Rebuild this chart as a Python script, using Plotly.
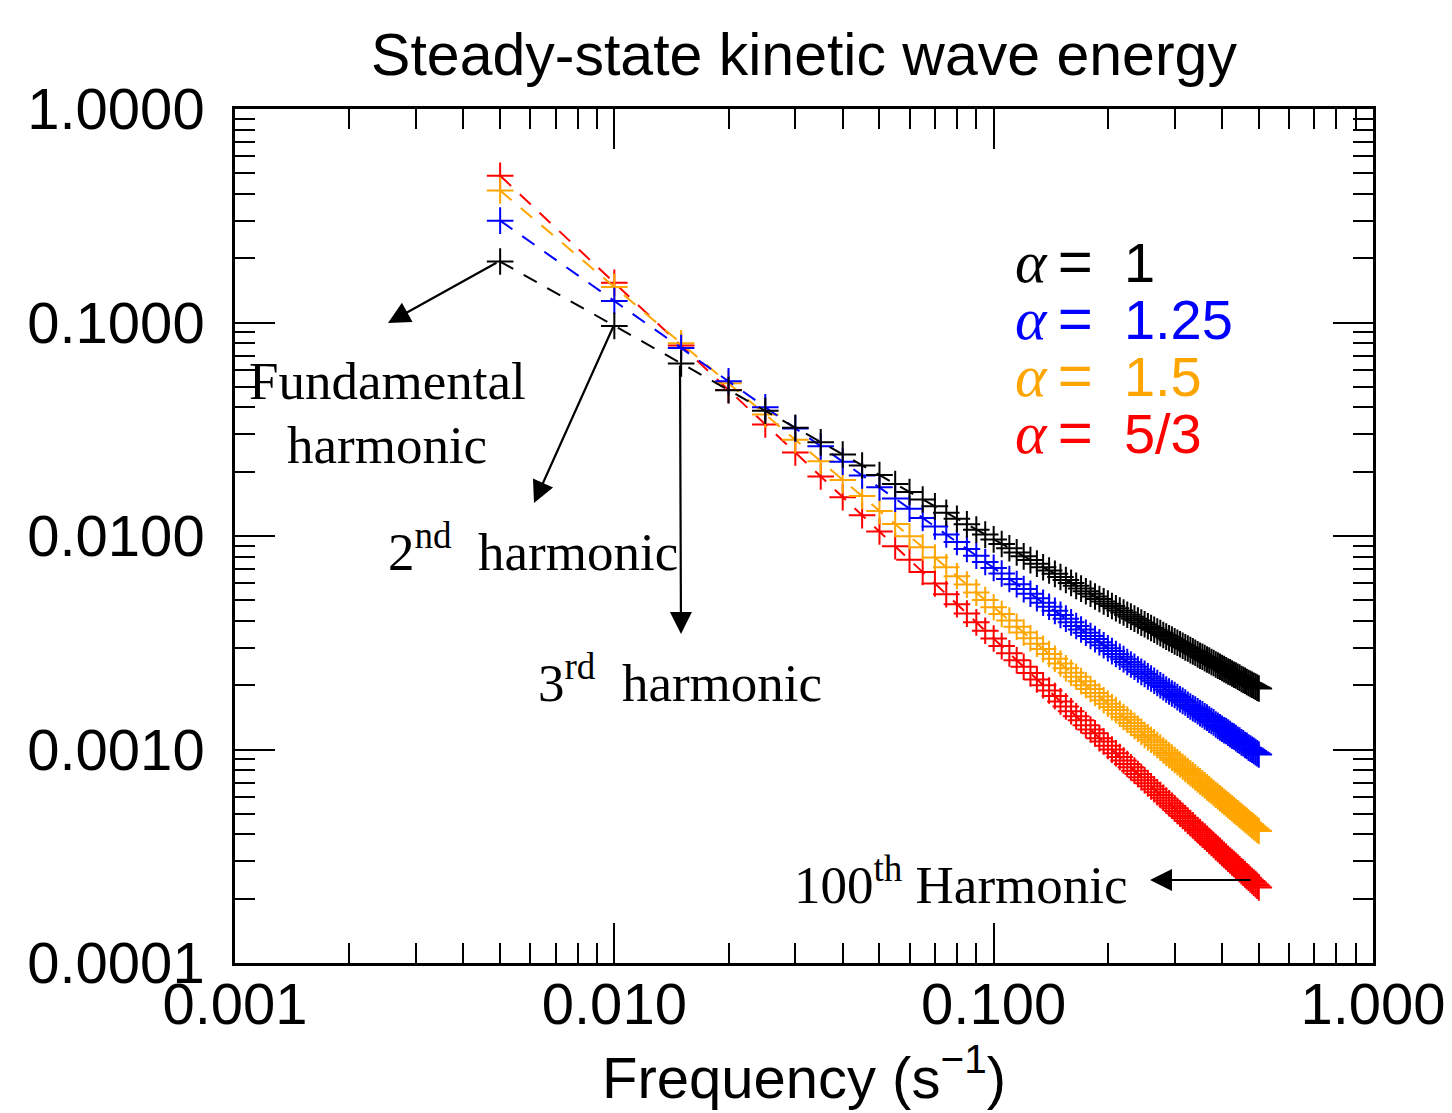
import plotly.graph_objects as go

# ---------------- data ----------------
frequency = [
    0.005, 0.010, 0.015, 0.020, 0.025, 0.030, 0.035, 0.040, 0.045, 0.050,
    0.055, 0.060, 0.065, 0.070, 0.075, 0.080, 0.085, 0.090, 0.095, 0.100,
    0.105, 0.110, 0.115, 0.120, 0.125, 0.130, 0.135, 0.140, 0.145, 0.150,
    0.155, 0.160, 0.165, 0.170, 0.175, 0.180, 0.185, 0.190, 0.195, 0.200,
    0.205, 0.210, 0.215, 0.220, 0.225, 0.230, 0.235, 0.240, 0.245, 0.250,
    0.255, 0.260, 0.265, 0.270, 0.275, 0.280, 0.285, 0.290, 0.295, 0.300,
    0.305, 0.310, 0.315, 0.320, 0.325, 0.330, 0.335, 0.340, 0.345, 0.350,
    0.355, 0.360, 0.365, 0.370, 0.375, 0.380, 0.385, 0.390, 0.395, 0.400,
    0.405, 0.410, 0.415, 0.420, 0.425, 0.430, 0.435, 0.440, 0.445, 0.450,
    0.455, 0.460, 0.465, 0.470, 0.475, 0.480, 0.485, 0.490, 0.495, 0.500,
]

energy_alpha_1 = [
    0.193, 0.0964, 0.0643, 0.0482, 0.0386, 0.0321, 0.0275, 0.0241, 0.0214, 0.0193,
    0.01753, 0.01607, 0.01483, 0.01377, 0.01285, 0.01205, 0.01134, 0.01071, 0.01015, 0.00964,
    0.00918, 0.00876, 0.00838, 0.00803, 0.00771, 0.00742, 0.00714, 0.00689, 0.00665, 0.00643,
    0.00622, 0.00603, 0.00584, 0.00567, 0.00551, 0.00536, 0.00521, 0.00507, 0.00494, 0.00482,
    0.00470, 0.00459, 0.00448, 0.00438, 0.00428, 0.00419, 0.00410, 0.00402, 0.00393, 0.00386,
    0.00378, 0.00371, 0.00364, 0.00357, 0.00351, 0.00344, 0.00338, 0.00332, 0.00327, 0.00321,
    0.00316, 0.00311, 0.00306, 0.00301, 0.00297, 0.00292, 0.00288, 0.00284, 0.00279, 0.00275,
    0.00272, 0.00268, 0.00264, 0.00261, 0.00257, 0.00254, 0.00250, 0.00247, 0.00244, 0.00241,
    0.00238, 0.00235, 0.00232, 0.00230, 0.00227, 0.00224, 0.00222, 0.00219, 0.00217, 0.00214,
    0.00212, 0.00210, 0.00207, 0.00205, 0.00203, 0.00201, 0.00199, 0.00197, 0.00195, 0.00193,
]

energy_alpha_1_25 = [
    0.300, 0.1261, 0.0759, 0.0530, 0.0401, 0.0319, 0.0263, 0.0223, 0.0192, 0.0169,
    0.01497, 0.01342, 0.01215, 0.01107, 0.01016, 0.00937, 0.00869, 0.00809, 0.00756, 0.00709,
    0.00667, 0.00629, 0.00595, 0.00564, 0.00536, 0.00511, 0.00487, 0.00466, 0.00446, 0.00427,
    0.00410, 0.00394, 0.00379, 0.00365, 0.00352, 0.00340, 0.00329, 0.00318, 0.00308, 0.00298,
    0.00289, 0.00280, 0.00272, 0.00265, 0.00257, 0.00250, 0.00244, 0.00237, 0.00231, 0.00226,
    0.00220, 0.00215, 0.00210, 0.00205, 0.00200, 0.00196, 0.00191, 0.00187, 0.00183, 0.00180,
    0.00176, 0.00172, 0.00169, 0.00166, 0.00162, 0.00159, 0.00156, 0.00154, 0.00151, 0.00148,
    0.00146, 0.00143, 0.00141, 0.00138, 0.00136, 0.00134, 0.00131, 0.00129, 0.00127, 0.00125,
    0.00123, 0.00122, 0.00120, 0.00118, 0.00116, 0.00115, 0.00113, 0.00111, 0.00110, 0.00108,
    0.00107, 0.00105, 0.00104, 0.00102, 0.00101, 0.000998, 0.000985, 0.000972, 0.000960, 0.000948,
]

energy_alpha_1_5 = [
    0.415, 0.1467, 0.0799, 0.0519, 0.0371, 0.0282, 0.0224, 0.0183, 0.0154, 0.0131,
    0.01138, 0.00998, 0.00885, 0.00792, 0.00714, 0.00648, 0.00592, 0.00543, 0.00501, 0.00464,
    0.00431, 0.00402, 0.00376, 0.00353, 0.00332, 0.00313, 0.00296, 0.00280, 0.00266, 0.00253,
    0.00240, 0.00229, 0.00219, 0.00209, 0.00200, 0.00192, 0.00184, 0.00177, 0.00170, 0.00164,
    0.00158, 0.00153, 0.00147, 0.00142, 0.00138, 0.00133, 0.00129, 0.00125, 0.00121, 0.00117,
    0.00114, 0.00111, 0.00108, 0.00105, 0.00102, 0.000990, 0.000964, 0.000940, 0.000916, 0.000893,
    0.000871, 0.000850, 0.000830, 0.000811, 0.000792, 0.000774, 0.000757, 0.000740, 0.000724, 0.000709,
    0.000694, 0.000679, 0.000665, 0.000652, 0.000639, 0.000626, 0.000614, 0.000602, 0.000591, 0.000580,
    0.000569, 0.000559, 0.000549, 0.000539, 0.000530, 0.000520, 0.000511, 0.000503, 0.000494, 0.000486,
    0.000478, 0.000470, 0.000463, 0.000455, 0.000448, 0.000441, 0.000434, 0.000428, 0.000421, 0.000415,
]

energy_alpha_5_3 = [
    0.487, 0.1534, 0.0780, 0.0483, 0.0333, 0.0246, 0.0190, 0.0152, 0.0125, 0.0105,
    0.00895, 0.00774, 0.00678, 0.00599, 0.00534, 0.00479, 0.00433, 0.00394, 0.00360, 0.00331,
    0.00305, 0.00282, 0.00262, 0.00244, 0.00228, 0.00213, 0.00200, 0.00189, 0.00178, 0.00168,
    0.00159, 0.00151, 0.00143, 0.00137, 0.00130, 0.00124, 0.00119, 0.00113, 0.00109, 0.00104,
    0.000999, 0.000960, 0.000923, 0.000888, 0.000855, 0.000825, 0.000796, 0.000768, 0.000742, 0.000718,
    0.000694, 0.000672, 0.000651, 0.000631, 0.000612, 0.000594, 0.000577, 0.000560, 0.000545, 0.000530,
    0.000515, 0.000501, 0.000488, 0.000476, 0.000463, 0.000452, 0.000441, 0.000430, 0.000420, 0.000410,
    0.000400, 0.000391, 0.000382, 0.000373, 0.000365, 0.000357, 0.000349, 0.000342, 0.000335, 0.000328,
    0.000321, 0.000315, 0.000308, 0.000302, 0.000296, 0.000291, 0.000285, 0.000280, 0.000275, 0.000269,
    0.000265, 0.000260, 0.000255, 0.000251, 0.000246, 0.000242, 0.000238, 0.000234, 0.000230, 0.000226,
]

series_labels = ["1", "1.25", "1.5", "5/3"]
series_colors = ["#000000", "#0000FF", "#FFA500", "#FF0000"]
series_values = [energy_alpha_1, energy_alpha_1_25, energy_alpha_1_5, energy_alpha_5_3]

x_tickvals = [0.001, 0.01, 0.1, 1.0]
x_ticktext = ["0.001", "0.010", "0.100", "1.000"]
y_tickvals = [0.0001, 0.001, 0.01, 0.1, 1.0]
y_ticktext = ["0.0001", "0.0010", "0.0100", "0.1000", "1.0000"]

# ---------------- figure ----------------
OFF = 8                       # page body margin of the html page
W, H = 1452 - OFF, 1113 - OFF
ML, MT = 234 - OFF + 1, 108 - OFF + 1
PW, PH = 1138, 854
MR, MB = W - ML - PW, H - MT - PH


def px(xr):
    """reference-picture x pixel -> paper fraction"""
    return (xr - OFF - ML) / PW


def py(yr):
    """reference-picture y pixel -> paper fraction"""
    return (MT + PH - (yr - OFF)) / PH


SANS = "Liberation Sans, Arial, Helvetica, sans-serif"
SERIF = "Liberation Serif, Times New Roman, serif"

fig = go.Figure()
order = [3, 2, 1, 0]
for i in order:
    fig.add_trace(go.Scatter(
        x=frequency, y=series_values[i], mode="lines+markers",
        name="α = " + series_labels[i],
        line=dict(color=series_colors[i], width=2, dash="15px,12px"),
        marker=dict(symbol="cross-thin", size=19,
                    line=dict(color=series_colors[i], width=2)),
        showlegend=False,
    ))

axis_common = dict(
    type="log", tickmode="array", ticks="inside", ticklen=40, tickwidth=2,
    tickcolor="black", showline=True, linewidth=2.5, linecolor="black",
    mirror="ticks", showgrid=False, zeroline=False,
    tickfont=dict(family=SANS, size=58, color="black"),
    minor=dict(ticks="inside", ticklen=20, tickwidth=2, tickcolor="black",
               dtick="D1", showgrid=False),
)

fig.update_xaxes(range=[-3, 0], tickvals=x_tickvals, ticktext=x_ticktext,
                 ticklabelstandoff=-11,
                 title=dict(text="Frequency (s<sup>−1</sup>)",
                            font=dict(family=SANS, size=58, color="black"),
                            standoff=22),
                 **axis_common)
fig.update_yaxes(range=[-4, 0], tickvals=y_tickvals, ticktext=y_ticktext,
                 ticklabelstandoff=16, **axis_common)

annotations = []
# legend-like coloured labels
legend_rows = [262, 318, 375, 432]
for lbl, col, yr in zip(series_labels, series_colors, legend_rows):
    annotations.append(dict(
        xref="paper", yref="paper", x=px(1013), y=py(yr), xanchor="left",
        yanchor="middle", showarrow=False,
        text=('<span style="font-family:Liberation Serif;font-size:60px">'
              '<i>α</i></span>\u2009<span style="font-size:60px">=</span>'
              '\u00a0\u00a0' + lbl),
        font=dict(family=SANS, size=56, color=col)))

# text labels
texts = [
    ("Fundamental", 387, 381),
    ("harmonic", 387, 445),
    ("2<sup>nd</sup>  harmonic", 533, 548),
    ("3<sup>rd</sup>  harmonic", 680, 679),
    ("100<sup>th</sup> Harmonic", 961, 881),
]
for t, xr, yr in texts:
    annotations.append(dict(
        xref="paper", yref="paper", x=px(xr), y=py(yr), xanchor="center",
        yanchor="middle", showarrow=False, text=t,
        font=dict(family=SERIF, size=53, color="black")))

# arrows (head near the label, tail at the data point)
arrows = [
    (388, 323, 110, -61),
    (534, 503, 80, -178),
    (681, 634, -1, -270),
    (1150, 880, 102, 0),
]
for hx, hy, ax, ay in arrows:
    annotations.append(dict(
        xref="paper", yref="paper", x=px(hx), y=py(hy), ax=ax, ay=ay,
        axref="pixel", ayref="pixel", text="", showarrow=True,
        arrowhead=2, arrowsize=2.0, arrowwidth=2.2, arrowcolor="black",
        standoff=0, startstandoff=0, font=dict(size=1)))

fig.update_layout(
    width=W, height=H,
    margin=dict(l=ML, r=MR, t=MT, b=MB, autoexpand=False),
    paper_bgcolor="white", plot_bgcolor="white",
    title=dict(text="Steady-state kinetic wave energy", x=px(804),
               xref="paper", xanchor="center", y=1 - (54 - OFF) / H,
               yanchor="middle",
               font=dict(family=SANS, size=59, color="black")),
    annotations=annotations,
    showlegend=False,
)

fig.write_html("out.html")
